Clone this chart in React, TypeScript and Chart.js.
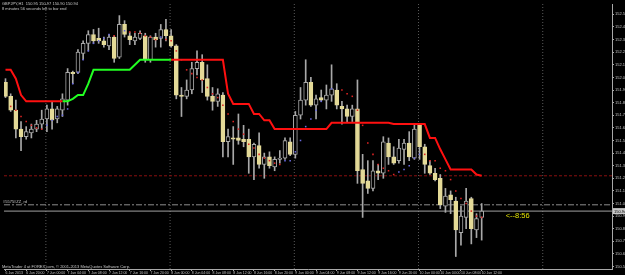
import React, { useEffect, useRef } from "react";
import { Chart, registerables } from "chart.js";

Chart.register(...registerables);

const symbolInfo = "GBPJPY,H1  150.95 150.97 150.90 150.94";
const timerInfo = "8 minutes 56 seconds left to bar end";
const brokerInfo = "MetaTrader 4 at FOREX.com, \u00A9 2001-2013 MetaQuotes Software Corp.";
const lineName = "#5575#ZZ_rd";
const countdown = "<--8:56";

const openP = [151.96,151.85,151.74,151.59,151.53,151.56,151.59,151.63,151.67,151.75,
 151.67,151.74,151.82,152.04,152.04,152.19,152.27,152.34,152.31,152.29,
 152.25,152.32,152.16,152.42,152.33,152.29,152.31,152.33,152.14,152.32,
 152.31,152.38,152.33,152.25,151.86,151.85,151.90,152.07,152.12,151.99,
 151.85,151.81,151.86,151.49,151.52,151.52,151.51,151.51,151.37,151.46,
 151.31,151.37,151.29,151.35,151.36,151.49,151.39,151.70,151.82,151.96,
 151.78,151.84,151.82,151.86,151.90,151.77,151.75,151.69,151.75,151.27,
 151.18,151.12,151.26,151.24,151.48,151.37,151.34,151.43,151.48,151.36,
 151.63,151.45,151.30,151.24,151.20,150.98,151.07,151.02,150.77,150.89,
 151.04,150.79,150.89];
const highP = [151.99,151.87,151.82,151.65,151.61,151.63,151.66,151.74,151.78,151.81,
 151.77,151.87,152.07,152.05,152.22,152.29,152.37,152.38,152.39,152.32,
 152.34,152.33,152.49,152.45,152.36,152.35,152.37,152.35,152.33,152.35,
 152.42,152.46,152.38,152.26,151.92,151.98,152.12,152.21,152.18,152.10,
 151.92,151.91,151.88,151.59,151.61,151.71,151.62,151.59,151.48,151.56,
 151.40,151.41,151.37,151.42,151.52,151.52,151.73,151.92,152.14,152.00,
 151.86,151.90,151.94,152.10,151.95,151.81,151.78,151.78,151.98,151.39,
 151.34,151.34,151.31,151.53,151.52,151.45,151.51,151.51,151.57,151.63,
 151.63,151.47,151.34,151.28,151.23,151.12,151.10,151.05,150.98,151.12,
 151.05,150.92,151.00];
const lowP = [151.84,151.73,151.52,151.42,151.51,151.52,151.57,151.59,151.57,151.59,
 151.64,151.69,151.78,151.95,152.03,152.14,152.21,152.27,152.27,152.24,
 152.22,152.12,152.15,152.32,152.26,152.26,152.30,152.12,152.12,152.24,
 152.24,152.29,152.24,151.83,151.69,151.83,151.87,152.02,151.88,151.82,
 151.74,151.77,151.37,151.37,151.31,151.47,151.45,151.24,151.19,151.28,
 151.20,151.28,151.26,151.32,151.35,151.38,151.36,151.67,151.78,151.77,
 151.67,151.81,151.75,151.81,151.75,151.63,151.65,151.65,151.16,150.89,
 151.08,151.10,151.19,151.20,151.31,151.31,151.32,151.31,151.34,151.35,
 151.35,151.24,151.23,151.18,150.96,150.93,150.92,150.58,150.67,150.80,
 150.68,150.73,150.71];
const closeP = [151.85,151.74,151.59,151.53,151.57,151.59,151.63,151.67,151.75,151.66,
 151.75,151.83,152.04,152.03,152.20,152.27,152.34,152.29,152.29,152.26,
 152.32,152.15,152.42,152.34,152.30,152.32,152.35,152.14,152.32,152.30,
 152.38,152.33,152.25,151.86,151.85,151.90,152.07,152.12,151.98,151.85,
 151.81,151.87,151.49,151.53,151.51,151.50,151.49,151.37,151.47,151.31,
 151.37,151.30,151.35,151.36,151.50,151.39,151.70,151.82,151.96,151.78,
 151.83,151.82,151.86,151.91,151.78,151.75,151.69,151.75,151.26,151.16,
 151.12,151.26,151.24,151.49,151.37,151.32,151.44,151.48,151.37,151.59,
 151.45,151.31,151.24,151.19,150.99,151.06,151.03,150.79,150.90,151.02,
 150.80,150.88,150.94];

const stopRed = [152.06,152.06,151.99,151.86,151.81,151.81,151.81,151.81,151.81,151.81,
 151.81,151.81,null,null,null,null,null,null,null,null,
 null,null,null,null,null,null,null,null,null,null,
 null,null,152.14,152.14,152.14,152.14,152.14,152.14,152.14,152.14,
 152.14,152.14,152.14,151.87,151.79,151.79,151.79,151.79,151.71,151.71,
 151.66,151.66,151.59,151.59,151.59,151.59,151.59,151.59,151.59,151.59,
 151.59,151.59,151.59,151.64,151.64,151.64,151.64,151.64,151.64,151.64,
 151.64,151.64,151.64,151.64,151.64,151.63,151.63,151.63,151.63,151.63,
 151.63,151.63,151.52,151.52,151.43,151.35,151.27,151.27,151.27,151.27,
 151.27,151.23,151.22];
const stopGreen = [null,null,null,null,null,null,null,null,null,null,
 null,151.81,151.81,151.83,151.86,151.86,151.95,152.06,152.06,152.06,
 152.06,152.06,152.06,152.06,152.06,152.10,152.14,152.14,152.14,152.14,
 152.14,152.14,152.14,null,null,null,null,null,null,null,
 null,null,null,null,null,null,null,null,null,null,
 null,null,null,null,null,null,null,null,null,null,
 null,null,null,null,null,null,null,null,null,null,
 null,null,null,null,null,null,null,null,null,null,
 null,null,null,null,null,null,null,null,null,null,
 null,null,null];

const redDotBars = [1,2,3,4,5,6,7,21,24,25,26,27,28,29,31,32,33,34,35,36,37,38,39,40,41,42,43,44,45,46,47,48,49,50,51,52,53,65,66,67,68,69,70,71,72,73,74,75,81,82,83,84,85,86,87,88,89,90,91,92];
const redDotVals = [151.77,151.74,151.69,151.65,151.62,151.60,151.59,152.33,152.36,152.36,152.35,152.33,152.32,152.30,152.30,152.29,152.21,152.14,152.06,152.03,152.00,151.98,151.92,151.87,151.84,151.78,151.71,151.65,151.59,151.55,151.47,151.44,151.39,151.36,151.34,151.32,151.31,151.90,151.87,151.85,151.74,151.62,151.48,151.39,151.31,151.28,151.26,151.23,151.39,151.34,151.34,151.28,151.26,151.19,151.10,151.04,151.00,150.94,150.90,150.89];
const blueDotBars = [8,9,10,11,12,13,14,15,16,17,18,19,20,23,30,54,55,56,57,58,59,60,61,63,76,77,78,79,80];
const blueDotVals = [151.62,151.66,151.69,151.70,151.75,151.95,152.04,152.14,152.21,152.27,152.29,152.31,152.34,152.37,152.32,151.34,151.34,151.41,151.50,151.61,151.67,151.74,151.81,151.91,151.25,151.27,151.30,151.36,151.39];

const timeLabels = ["6 Jun 2013","6 Jun 20:00","7 Jun 00:00","7 Jun 04:00","7 Jun 08:00","7 Jun 12:00","7 Jun 16:00","7 Jun 20:00","8 Jun 00:00","8 Jun 04:00","8 Jun 08:00","8 Jun 12:00","8 Jun 16:00","8 Jun 20:00","9 Jun 00:00","9 Jun 04:00","9 Jun 08:00","9 Jun 12:00","9 Jun 16:00","9 Jun 20:00","10 Jun 00:00","10 Jun 04:00","10 Jun 08:00","10 Jun 12:00"];
const labelBars = [0,4,8,12,16,20,24,28,32,36,40,44,48,52,56,60,64,68,72,76,80,84,88,92];
const priceTicks = [150.5,150.6,150.7,150.8,150.9,151.0,151.1,151.2,151.3,151.4,151.5,151.6,151.7,151.8,151.9,152.0,152.1,152.2,152.3,152.4,152.5];
const daySeparators = [7.8, 31.8, 55.8, 79.8, 103.8];
const bidPrice = 150.94;
const alertPrice = 151.22;
const levelPrice = 150.99;

const X_MIN = -0.29;
const X_MAX = 117.18;
const Y_MIN = 150.481;
const Y_MAX = 152.582;

const BEAR_FILL = "#e4da98";
const EDGE = "#a8a8a8";

export default function App() {
  const ref = useRef<HTMLCanvasElement | null>(null);

  useEffect(() => {
    const canvas = ref.current;
    if (!canvas) return;
    const idx = openP.map((_, i) => i);

    const bgPlugin = {
      id: "bgPlugin",
      beforeDraw(c: any) {
        const ctx = c.ctx;
        ctx.save();
        ctx.fillStyle = "#000000";
        ctx.fillRect(0, 0, c.width, c.height);
        ctx.restore();
      },
    };

    const textPlugin = {
      id: "textPlugin",
      afterDraw(c: any) {
        const ctx = c.ctx;
        const ys = c.scales.y;
        const xs = c.scales.x;
        const area = c.chartArea;
        ctx.save();
        ctx.textBaseline = "alphabetic";
        ctx.textAlign = "left";
        ctx.fillStyle = "#c8c8c8";
        ctx.font = '4px "Liberation Sans"';
        ctx.fillText(symbolInfo, 2, 5);
        ctx.fillText(timerInfo, 2, 10);
        ctx.fillText(brokerInfo, 2, 268);
        ctx.fillText(lineName, 3, ys.getPixelForValue(levelPrice) - 2);
        ctx.font = '7.5px "Liberation Sans"';
        ctx.fillStyle = "#e0e000";
        ctx.fillText(countdown, xs.getPixelForValue(openP.length - 1) + 24, ys.getPixelForValue(bidPrice) + 7);
        const py = ys.getPixelForValue(bidPrice);
        ctx.fillStyle = "#c8c8c8";
        ctx.fillRect(area.right + 1, py - 3, 12, 6);
        ctx.fillStyle = "#000000";
        ctx.font = '4px "Liberation Sans"';
        ctx.fillText(bidPrice.toFixed(2), area.right + 2, py + 1.5);
        ctx.restore();
      },
    };

    const sepData: any[] = [];
    daySeparators.forEach((d) => {
      sepData.push({ x: d, y: Y_MAX });
      sepData.push({ x: d, y: Y_MIN });
      sepData.push({ x: d, y: null });
    });

    const chart = new Chart(canvas, {
      type: "bar",
      data: {
        datasets: [
          {
            type: "line",
            data: sepData,
            borderColor: "#5a5a5a",
            borderWidth: 1,
            borderDash: [1, 2],
            pointRadius: 0,
            spanGaps: false,
            order: 9,
          } as any,
          {
            type: "line",
            data: [{ x: X_MIN, y: alertPrice }, { x: X_MAX, y: alertPrice }],
            borderColor: "#8a1010",
            borderWidth: 1,
            borderDash: [3, 2],
            pointRadius: 0,
            order: 8,
          } as any,
          {
            type: "line",
            data: [{ x: X_MIN, y: levelPrice }, { x: X_MAX, y: levelPrice }],
            borderColor: "#8c8c8c",
            borderWidth: 1,
            borderDash: [6, 2, 2, 2],
            pointRadius: 0,
            order: 8,
          } as any,
          {
            type: "line",
            data: [{ x: X_MIN, y: bidPrice }, { x: X_MAX, y: bidPrice }],
            borderColor: "#a0a0a0",
            borderWidth: 1,
            pointRadius: 0,
            order: 8,
          } as any,
          {
            type: "bar",
            data: idx.map((i) => ({ x: i, y: [lowP[i], highP[i]] })),
            backgroundColor: EDGE,
            barThickness: 1,
            grouped: false,
            order: 6,
          } as any,
          {
            type: "bar",
            data: idx.map((i) => ({ x: i, y: [openP[i], closeP[i]] })),
            backgroundColor: idx.map((i) => (closeP[i] < openP[i] ? BEAR_FILL : "#000000")),
            borderColor: idx.map((i) => (closeP[i] < openP[i] ? BEAR_FILL : EDGE)),
            borderWidth: 1,
            borderSkipped: false,
            barThickness: 4,
            minBarLength: 1,
            grouped: false,
            order: 5,
          } as any,
          {
            type: "line",
            data: idx.map((i) => ({ x: i, y: stopRed[i] })),
            borderColor: "#ff1010",
            borderWidth: 2,
            pointRadius: 0,
            spanGaps: false,
            order: 3,
          } as any,
          {
            type: "line",
            data: idx.map((i) => ({ x: i, y: stopGreen[i] })),
            borderColor: "#22ff22",
            borderWidth: 2,
            pointRadius: 0,
            spanGaps: false,
            order: 3,
          } as any,
          {
            type: "line",
            data: redDotBars.map((b, k) => ({ x: b, y: redDotVals[k] })),
            showLine: false,
            pointStyle: "rect",
            pointRadius: 1.1,
            pointBorderWidth: 0,
            pointBackgroundColor: "#e02424",
            order: 1,
          } as any,
          {
            type: "line",
            data: blueDotBars.map((b, k) => ({ x: b, y: blueDotVals[k] })),
            showLine: false,
            pointStyle: "rect",
            pointRadius: 1.1,
            pointBorderWidth: 0,
            pointBackgroundColor: "#6a6ae0",
            order: 1,
          } as any,
        ],
      },
      options: {
        responsive: false,
        animation: false,
        events: [],
        layout: { padding: { top: 1, left: 0, right: 0, bottom: 0 } },
        plugins: { legend: { display: false }, tooltip: { enabled: false } },
        scales: {
          x: {
            type: "linear",
            position: "bottom",
            offset: false,
            min: X_MIN,
            max: X_MAX,
            afterBuildTicks: (s: any) => {
              s.ticks = labelBars.map((v) => ({ value: v }));
            },
            afterFit: (s: any) => {
              s.height = 6;
              s.paddingLeft = 0;
              s.paddingRight = 0;
            },
            ticks: {
              autoSkip: false,
              maxRotation: 0,
              minRotation: 0,
              align: "start",
              padding: 0,
              color: "#c0c0c0",
              font: { size: 3.5, family: "Liberation Sans" },
              callback: (_v: any, i: number) => timeLabels[i] ?? "",
            },
            grid: { offset: false, drawOnChartArea: false, drawTicks: true, tickLength: 2, color: EDGE, tickColor: EDGE },
            border: { display: true, color: EDGE, width: 1 },
          } as any,
          y: {
            type: "linear",
            position: "right",
            min: Y_MIN,
            max: Y_MAX,
            afterBuildTicks: (s: any) => {
              s.ticks = priceTicks.map((v) => ({ value: v }));
            },
            afterFit: (s: any) => {
              s.width = 13;
              s.paddingTop = 0;
              s.paddingBottom = 0;
            },
            ticks: {
              padding: 1,
              color: "#c0c0c0",
              font: { size: 4, family: "Liberation Sans" },
              callback: (v: any) => Number(v).toFixed(2),
            },
            grid: { drawOnChartArea: false, drawTicks: true, tickLength: 2, color: EDGE, tickColor: EDGE },
            border: { display: true, color: EDGE, width: 1 },
          } as any,
        },
      },
      plugins: [bgPlugin, textPlugin],
    } as any);

    return () => chart.destroy();
  }, []);

  return (
    <div style={{ position: "fixed", left: 0, top: 0, width: 625, height: 275, background: "#000" }}>
      <canvas ref={ref} width={625} height={275} style={{ display: "block", width: 625, height: 275 }} />
    </div>
  );
}
